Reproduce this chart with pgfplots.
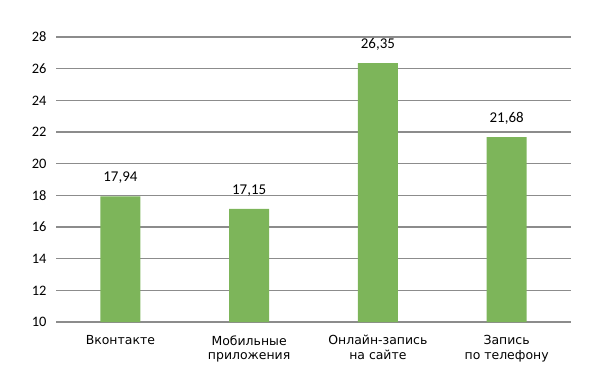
\documentclass[border=0pt]{standalone}
\usepackage{fontspec}
\setmainfont{Carlito}
\newfontfamily\dejavu{DejaVu Sans}
\usepackage{pgfplots}
\pgfplotsset{compat=1.18}
\definecolor{bargreen}{HTML}{7DB55A}
\definecolor{gridgray}{HTML}{8C8C8C}
\begin{document}
\begin{tikzpicture}[x=1bp,y=1bp]
\useasboundingbox (0,0) rectangle (600,371);
\begin{axis}[
  at={(56bp,49bp)}, anchor=south west,
  scale only axis,
  width=515bp, height=285bp,
  xmin=-0.5, xmax=3.5,
  ymin=10, ymax=28,
  ytick={10,12,...,28},
  xtick=data,
  xticklabels={Вконтакте,{Мобильные\\приложения},{Онлайн-запись\\на сайте},{Запись\\по телефону}},
  xticklabel style={align=center, font=\dejavu\fontsize{12.5}{14.5}\selectfont, yshift=-10bp},
  yticklabel style={font=\fontsize{14.5}{16}\selectfont, xshift=-6bp},
  /pgf/number format/assume math mode=true,
  axis line style={draw=none},
  major tick length=0pt,
  ymajorgrids,
  grid style={gridgray, line width=1.1bp},
  nodes near coords,
  nodes near coords style={font=\fontsize{15}{17}\selectfont, yshift=9bp, /pgf/number format/.cd, fixed, fixed zerofill, precision=2, use comma, assume math mode=true},
  clip=false,
]
\addplot[ybar, bar width=40bp, fill=bargreen, draw=none] coordinates {(0,17.94) (1,17.15) (2,26.35) (3,21.68)};
\end{axis}
\end{tikzpicture}
\end{document}
